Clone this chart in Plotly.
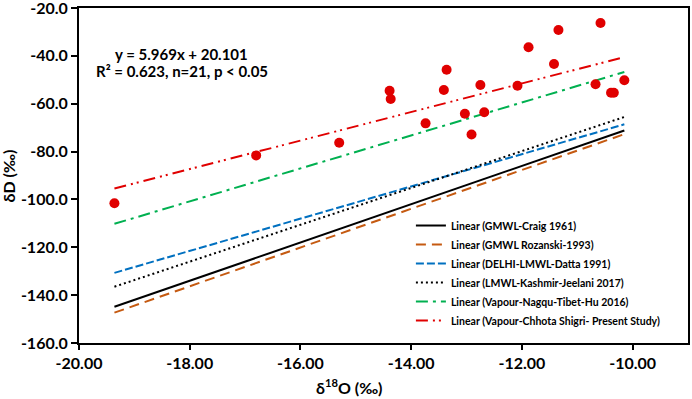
import plotly.graph_objects as go

# Observed vapour samples (δ18O, δD)
d18O = [-19.36, -16.80, -15.30, -14.39, -14.37, -13.74, -13.36, -13.41, -13.03, -12.91,
        -12.75, -12.68, -12.08, -11.88, -11.34, -11.42, -10.58, -10.67, -10.39, -10.34, -10.15]
dD = [-101.6, -81.6, -76.3, -54.6, -58.0, -68.2, -45.8, -54.3, -64.2, -72.9,
      -52.2, -63.6, -52.5, -36.4, -29.2, -43.4, -26.3, -51.9, -55.4, -55.4, -50.2]

# Meteoric water lines: name, slope, intercept
line_names = ["Linear (GMWL-Craig 1961)", "Linear (GMWL Rozanski-1993)",
              "Linear (DELHI-LMWL-Datta 1991)", "Linear (LMWL-Kashmir-Jeelani 2017)",
              "Linear (Vapour-Nagqu-Tibet-Hu 2016)", "Linear (Vapour-Chhota Shigri- Present Study)"]
slopes = [8.0, 8.1, 6.74, 7.70, 6.89, 5.969]
intercepts = [10.0, 9.5, -0.2, 12.6, 23.2, 20.101]
line_colors = ["#000000", "#C55A11", "#0070C0", "#000000", "#00B050", "#E00000"]
line_dashes = ["solid", "10px,6px", "8px,3px", "2px,3px", "12px,5px,3px,5px", "12px,5px,2px,4px,2px,5px"]

x_ticks = [-20, -18, -16, -14, -12, -10]
x_ticktext = ["-20.00", "-18.00", "-16.00", "-14.00", "-12.00", "-10.00"]
y_ticks = [-20, -40, -60, -80, -100, -120, -140, -160]
y_ticktext = ["-20.0", "-40.0", "-60.0", "-80.0", "-100.0", "-120.0", "-140.0", "-160.0"]

x_title = "δ<sup>18</sup>O (‰)"
y_title = "δD (‰)"
eq_line1 = "y = 5.969x + 20.101"
eq_line2 = "R² = 0.623, n=21, p < 0.05"

FONT = "Lato"

fig = go.Figure()
xmin, xmax = min(d18O), max(d18O)
for name, m, c, col, dash in zip(line_names, slopes, intercepts, line_colors, line_dashes):
    xs = [xmin, xmax]
    ys = [m * v + c for v in xs]
    fig.add_trace(go.Scatter(x=xs, y=ys, mode="lines", name=name,
                             line=dict(color=col, width=2, dash=dash)))

fig.add_trace(go.Scatter(x=d18O, y=dD, mode="markers", showlegend=False,
                         marker=dict(color="#E00000", size=10)))

eq_font = dict(family=FONT, size=15, color="black", weight="bold")
fig.add_annotation(x=0.169, y=0.863, xref="paper", yref="paper", xanchor="center", yanchor="middle",
                   text=eq_line1, showarrow=False, font=eq_font)
fig.add_annotation(x=0.169, y=0.812, xref="paper", yref="paper", xanchor="center", yanchor="middle",
                   text=eq_line2, showarrow=False, font=eq_font)

title_font = dict(family=FONT, size=16, color="black", weight="bold")
fig.add_annotation(x=0.444, y=-0.131, xref="paper", yref="paper", xanchor="center", yanchor="middle",
                   text=x_title, showarrow=False, font=title_font)
fig.add_annotation(x=-0.115, y=0.5, xref="paper", yref="paper", xanchor="center", yanchor="middle",
                   text=y_title, textangle=-90, showarrow=False, font=title_font)

fig.update_layout(
    width=692, height=399,
    margin=dict(l=79, r=4, t=8, b=56),
    paper_bgcolor="white", plot_bgcolor="white",
    font=dict(family=FONT, color="black"),
    legend=dict(x=0.545, y=0.394, xanchor="left", yanchor="top",
                bgcolor="rgba(0,0,0,0)", tracegroupgap=0, itemwidth=30,
                font=dict(family=FONT, size=10.5, weight="bold")),
    xaxis=dict(range=[-20, -9], tickvals=x_ticks, ticktext=x_ticktext,
               showgrid=False, zeroline=False, automargin=False,
               showline=True, linecolor="black", linewidth=2, mirror=True,
               ticks="outside", ticklen=5, tickwidth=2, tickcolor="black",
               ticklabeloverflow="allow",
               tickfont=dict(family=FONT, size=16, weight="bold")),
    yaxis=dict(range=[-160, -20], tickvals=y_ticks, ticktext=y_ticktext,
               showgrid=False, zeroline=False, automargin=False,
               showline=True, linecolor="black", linewidth=2, mirror=True,
               ticks="outside", ticklen=6, tickwidth=2, tickcolor="black",
               ticklabeloverflow="allow",
               tickfont=dict(family=FONT, size=16, weight="bold")),
)

fig.write_html("out.html", config={"displayModeBar": False},
               post_script="document.body.style.margin='0';document.body.style.overflow='hidden';")
